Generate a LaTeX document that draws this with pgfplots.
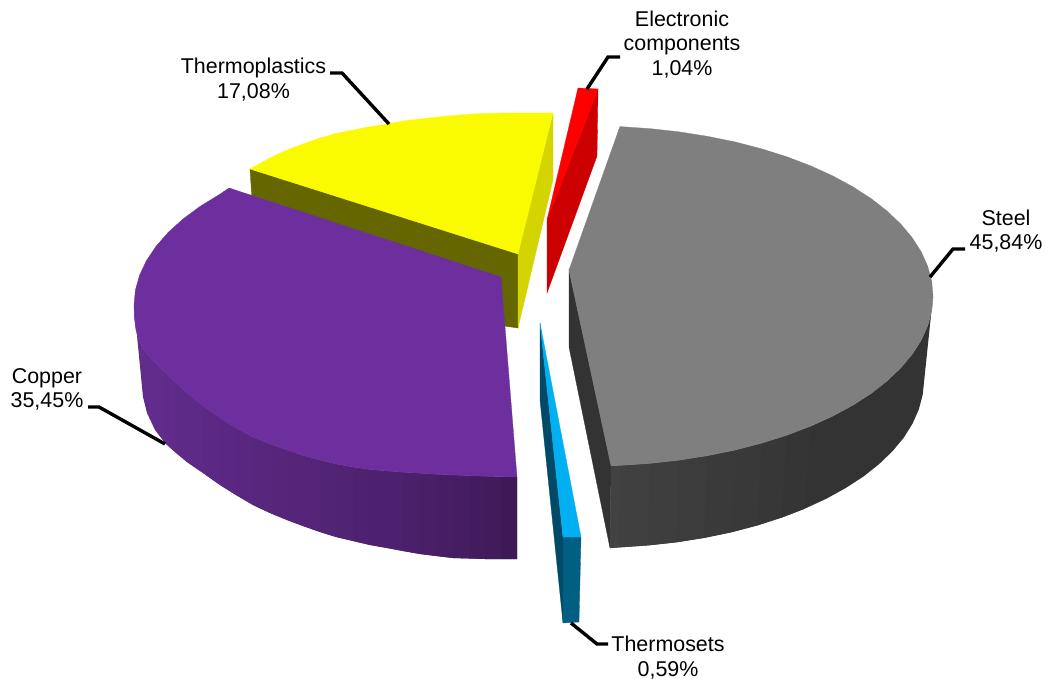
\documentclass[border=0pt]{standalone}
\usepackage{pgfplots}
\pgfplotsset{compat=1.18}
\usepackage{fontspec}
\setmainfont{Liberation Sans}
\definecolor{pTop}{HTML}{6E2F9E}
\definecolor{pA}{HTML}{612C8C}
\definecolor{pB}{HTML}{3E1958}
\definecolor{ored}{HTML}{FF0000}
\definecolor{dred}{HTML}{CC0000}
\definecolor{yTop}{HTML}{FAFA00}
\definecolor{yRight}{HTML}{D4D400}
\definecolor{yFront}{HTML}{666600}
\definecolor{gTop}{HTML}{7F7F7F}
\definecolor{gCut}{HTML}{333333}
\definecolor{gLite}{HTML}{424242}
\definecolor{cTop}{HTML}{00B0F0}
\definecolor{cCut}{HTML}{004A68}
\definecolor{cRim}{HTML}{005F83}
\newcommand\piece[2]{\addplot[fill=#1,draw=#1,line width=0.3pt] coordinates {#2} -- cycle;}
\newcommand\strip[2]{\addplot[fill=#1,draw=none] coordinates {#2} -- cycle;}
\newcommand\leader[1]{\addplot[black,line width=3.4pt,line join=miter] coordinates {#1};}
\newcommand\lab[3]{\node[anchor=base,inner sep=0pt,text=black] at (axis cs:#1,#2) {\fontsize{21.5}{24}\selectfont #3};}
\begin{document}
\begin{tikzpicture}
\begin{axis}[
  scale only axis, width=1045bp, height=679bp,
  xmin=0, xmax=1045, ymin=0, ymax=679, y dir=reverse,
  hide axis, clip=false]
\path (axis cs:0,0) (axis cs:1045,679);
% Thermoplastics
\piece{yFront}{(250,169)(518,254)(518,328)(504,326)(252,200)}
\piece{yRight}{(553,113)(518,254)(518,328)(553,180)}
\piece{yTop}{(250,169)(259,164)(268,159)(277,154.5)(287,150)(303,144)(320,138)(336,133.5)(353,130)(370,126.7)(387,124)(403,121)(420,119)(433,117.5)(447,116)(460,115)(473,114)(491,113.3)(510,113)(532,113)(553,113)(518,254)}
% Electronic components
\piece{dred}{(598,89)(547,220)(547,293)(597,156)}
\piece{ored}{(578,88)(598,89)(547,220)}
% Steel
\piece{gCut}{(569,270)(569,347)(610,548)(611,465)}
\strip{gCut}{(933,296)(922.7,394.6)(918.9,409.2)(912.6,423.5)(903.9,437.5)(892.7,451)(879.2,464)(863.6,476.4)(845.8,488)(826.2,498.8)(804.7,508.7)(781.6,517.6)(786.7,435.3)(810.5,426.2)(832.5,416.2)(852.7,405.3)(871,393.5)(887,381)(900.9,367.8)(912.3,354.1)(921.3,340)(927.8,325.5)(931.7,310.8)}
\strip{gLite!12!gCut}{(810.5,426.2)(804.7,508.7)(781.6,517.6)(757,525.5)(761.5,443.2)(786.7,435.3)}
\strip{gLite!25!gCut}{(786.7,435.3)(781.6,517.6)(757,525.5)(731.2,532.3)(735,450.1)(761.5,443.2)}
\strip{gLite!38!gCut}{(761.5,443.2)(757,525.5)(731.2,532.3)(704.2,537.9)(707.3,455.7)(735,450.1)}
\strip{gLite!50!gCut}{(735,450.1)(731.2,532.3)(704.2,537.9)(676.4,542.3)(678.8,460.2)(707.3,455.7)}
\strip{gLite!62!gCut}{(707.3,455.7)(704.2,537.9)(676.4,542.3)(648,545.4)(649.6,463.4)(678.8,460.2)}
\strip{gLite!75!gCut}{(678.8,460.2)(676.4,542.3)(648,545.4)(619.1,547.4)(619.9,465.4)(649.6,463.4)}
\strip{gLite!88!gCut}{(649.6,463.4)(648,545.4)(619.1,547.4)(610,548)(611,465.7)(619.9,465.4)}
\strip{gLite}{(619.9,465.4)(619.1,547.4)(610,548)(611,465.7)}
\piece{gTop}{(569,270)(619.9,126.6)(649.6,128.6)(678.8,131.8)(707.3,136.3)(735,141.9)(761.5,148.8)(786.7,156.7)(810.5,165.8)(832.5,175.8)(852.7,186.7)(871,198.5)(887,211)(900.9,224.2)(912.3,237.9)(921.3,252)(927.8,266.5)(931.7,281.2)(933,296)(931.7,310.8)(927.8,325.5)(921.3,340)(912.3,354.1)(900.9,367.8)(887,381)(871,393.5)(852.7,405.3)(832.5,416.2)(810.5,426.2)(786.7,435.3)(761.5,443.2)(735,450.1)(707.3,455.7)(678.8,460.2)(649.6,463.4)(619.9,465.4)(611,465.7)}
% Thermosets
\piece{cCut}{(540,323)(540,400)(563,623)(563,537)}
\piece{cRim}{(563,537)(581,537)(579,622)(563,623)}
\piece{cTop}{(540,323)(563,537)(581,537)}
% Copper
\strip{pA}{(134,305)(134.5,318)(136,330)(139,340)(144,350)(153,360)(163,370)(175,382)(175,452)(165,443)(155,430)(147,413)(143,397)}
\strip{pB!4!pA}{(163,370)(175,382)(187,393)(187,462)(175,452)(165,443)}
\strip{pB!8!pA}{(175,382)(187,393)(203,406)(203,473)(187,462)(175,452)}
\strip{pB!12!pA}{(187,393)(203,406)(220,418)(220,485)(203,473)(187,462)}
\strip{pB!16!pA}{(203,406)(220,418)(236,428)(236,495)(220,485)(203,473)}
\strip{pB!20!pA}{(220,418)(236,428)(253,437)(253,505)(236,495)(220,485)}
\strip{pB!24!pA}{(236,428)(253,437)(270,444)(270,513)(253,505)(236,495)}
\strip{pB!28!pA}{(253,437)(270,444)(287,450)(287,520)(270,513)(253,505)}
\strip{pB!32!pA}{(270,444)(287,450)(303,455.5)(303,526)(287,520)(270,513)}
\strip{pB!36!pA}{(287,450)(303,455.5)(320,460)(320,532)(303,526)(287,520)}
\strip{pB!40!pA}{(303,455.5)(320,460)(336,464)(336,537)(320,532)(303,526)}
\strip{pB!44!pA}{(320,460)(336,464)(353,467)(353,541)(336,537)(320,532)}
\strip{pB!48!pA}{(336,464)(353,467)(370,469.5)(370,545)(353,541)(336,537)}
\strip{pB!52!pA}{(353,467)(370,469.5)(387,471)(387,548)(370,545)(353,541)}
\strip{pB!56!pA}{(370,469.5)(387,471)(403,472.2)(403,551)(387,548)(370,545)}
\strip{pB!60!pA}{(387,471)(403,472.2)(420,473.2)(420,554)(403,551)(387,548)}
\strip{pB!65!pA}{(403,472.2)(420,473.2)(436,474.2)(436,556)(420,554)(403,551)}
\strip{pB!70!pA}{(420,473.2)(436,474.2)(453,475)(453,558)(436,556)(420,554)}
\strip{pB!75!pA}{(436,474.2)(453,475)(469,475.7)(469,558.5)(453,558)(436,556)}
\strip{pB!80!pA}{(453,475)(469,475.7)(485,476.2)(485,559)(469,558.5)(453,558)}
\strip{pB!85!pA}{(469,475.7)(485,476.2)(501,476.7)(501,559)(485,559)(469,558.5)}
\strip{pB!92!pA}{(485,476.2)(501,476.7)(517,477)(517,559)(501,559)(485,559)}
\strip{pB}{(501,476.7)(517,477)(517,559)(501,559)}
\piece{pTop}{(229,188)(501,277)(517,477)(501,476.7)(485,476.2)(469,475.7)(453,475)(436,474.2)(420,473.2)(403,472.2)(387,471)(370,469.5)(353,467)(336,464)(320,460)(303,455.5)(287,450)(270,444)(253,437)(236,428)(220,418)(203,406)(187,393)(175,382)(163,370)(153,360)(144,350)(139,340)(136,330)(134.5,318)(134,305)(135.4,290)(139.6,275.1)(146.5,260.5)(156.1,246.2)(168.3,232.3)(183,219)(200.2,206.3)(219.6,194.4)}
% Leaders
\leader{(930,277)(953,249)(965,249)}
\leader{(587,89)(608,57)(620,57)}
\leader{(330,73)(342,73)(389,124)}
\leader{(88,407)(99,407)(165,444)}
\leader{(571,623)(597,644)(608,644)}
% Labels
\lab{1006}{225}{Steel}
\lab{1006}{249}{45,84\%}
\lab{682}{27}{Electronic}
\lab{682}{51}{components}
\lab{682}{76}{1,04\%}
\lab{253.5}{74}{Thermoplastics}
\lab{253.5}{98}{17,08\%}
\lab{47}{383}{Copper}
\lab{47}{407}{35,45\%}
\lab{668}{651}{Thermosets}
\lab{668}{676}{0,59\%}
\end{axis}
\end{tikzpicture}
\end{document}
